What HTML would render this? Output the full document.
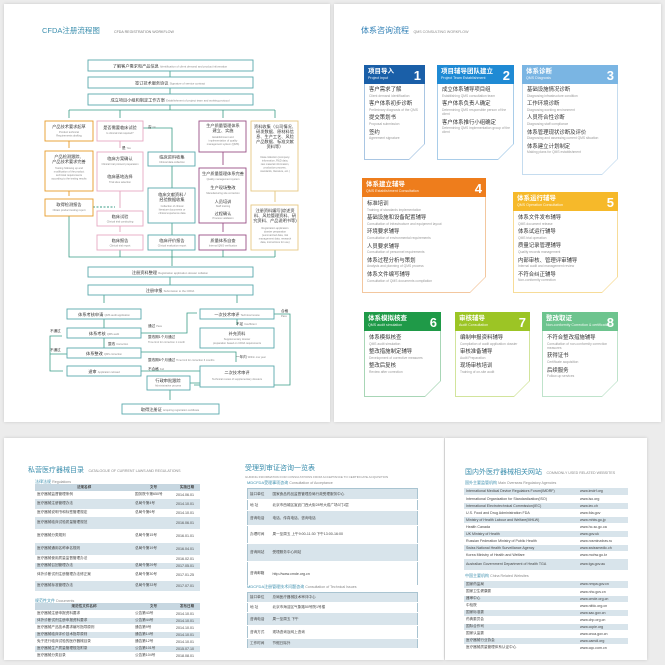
<!DOCTYPE html>
<html><head><meta charset="utf-8">
<style>
*{margin:0;padding:0;box-sizing:border-box}
body{width:665px;height:665px;background:#ececec;position:relative;overflow:hidden;font-family:"Liberation Sans","Noto Sans CJK SC",sans-serif}
.pg{position:absolute;background:#fff;box-shadow:0 0 3px rgba(0,0,0,.15)}
.a{position:absolute}
.card{position:absolute;clip-path:polygon(0 0,100% 0,100% calc(100% - 16px),calc(100% - 16px) 100%,0 100%)}
.card .in{position:absolute;left:1px;top:0;right:1px;bottom:1px;background:#fff;clip-path:polygon(0 0,100% 0,100% calc(100% - 15px),calc(100% - 15px) 100%,0 100%)}
.card .hd{position:absolute;left:0;top:0;right:0;color:#fff;padding:3px 4px}
.hd b{display:block;font-size:6.5px;line-height:8px}
.hd i{display:block;font-style:normal;font-size:3.6px;line-height:5px;opacity:.9}
.hd .n{position:absolute;right:4px;top:3px;font-size:13px;font-weight:bold}
.it{position:absolute;left:5px;right:3px}
.it p{font-size:5.4px;line-height:6.5px;color:#333}
.it s{text-decoration:none;display:block;font-size:3.3px;line-height:4.2px;color:#999;margin-bottom:3.5px}
table{position:absolute;border-collapse:collapse;font-size:3.6px;color:#444}
td{height:7px;padding:0 2px;border-bottom:1px solid #fff}
tr.g td{background:#d8e4eb}
tr.h td{background:#c7d7e1;font-weight:bold;text-align:center}
.t1{font-size:7px;color:#3c8fae}
.t2{font-size:3.6px;color:#888}
.st{font-size:4px;color:#3c8fae}
</style></head><body>
<div class="pg" style="left:4px;top:4px;width:326px;height:418px"></div>
<div class="pg" style="left:334px;top:4px;width:327px;height:418px"></div>
<div class="pg" style="left:4px;top:438px;width:440px;height:222px"></div>
<div class="pg" style="left:445px;top:438px;width:202px;height:222px"></div>

<!-- Flowchart -->
<svg class="a" style="left:0;top:0" width="665" height="430" viewBox="0 0 665 430">
<g font-family="Liberation Sans,Noto Sans CJK SC,sans-serif">
<text x="42" y="33" font-size="7.5" fill="#3c8fae">CFDA注册流程图</text>
<text x="114" y="33" font-size="3.6" fill="#777">CFDA REGISTRATION WORKFLOW</text>
<g fill="none" stroke="#3a9c86" stroke-width="0.8">
<path d="M170 71V77M170 88V94M170 105V110M69 110H275M69 110V118M120 110V118M223 110V118M275 110V118"/>
<path d="M143 128H172V152M172 166V188M172 223V235"/>
<path d="M69 216V257H275M120 250V257M172 250V266M223 250V257M275 250V257M170 277V285M104 295V303M237 295V303"/>
<path d="M104 319V328M104 338V348M62 336H50V371H63M67 354H50M141 333H187V313H197M141 352H236V362M237 319V325M141 371H200M274 314H290V385H194M190 383H200M170 390V400"/>
</g>
<g fill="none" stroke-width="0.9">
<path d="M69 141V148M69 191V196" stroke="#e69b2a"/>
<path d="M120 141V148M120 191V208M120 226V232" stroke="#e3a3bd"/>
<path d="M223 152V165M223 223V232" stroke="#9a4f87"/>
<path d="M275 191V202" stroke="#e2c37a"/>
<path d="M93 207H115" stroke="#3a9c86" stroke-dasharray="2 1.5"/>
</g>
<g fill="#fff" stroke-width="0.9">
<g stroke="#5aa9ac">
<rect x="88" y="60" width="165" height="11"/><rect x="88" y="77" width="165" height="11"/><rect x="88" y="94" width="165" height="11"/>
<rect x="148" y="152" width="47" height="14"/><rect x="148" y="188" width="47" height="35"/><rect x="148" y="235" width="47" height="15"/>
<rect x="88" y="267" width="165" height="10"/><rect x="88" y="285" width="165" height="10"/>
<rect x="67" y="309" width="74" height="10"/><rect x="67" y="328" width="74" height="10"/><rect x="67" y="348" width="74" height="10"/><rect x="67" y="366" width="74" height="10"/>
<rect x="200" y="309" width="74" height="10"/><rect x="200" y="328" width="74" height="20"/><rect x="200" y="366" width="74" height="21"/><rect x="147" y="376" width="43" height="14"/><rect x="122" y="404" width="97" height="10"/>
</g>
<g stroke="#e69b2a"><rect x="45" y="121" width="48" height="20"/><rect x="45" y="151" width="48" height="40"/><rect x="45" y="199" width="48" height="17"/></g>
<g stroke="#e7a8c2"><rect x="97" y="121" width="46" height="20"/><rect x="97" y="152" width="46" height="39"/><rect x="97" y="211" width="46" height="15"/><rect x="97" y="235" width="46" height="15"/></g>
<g stroke="#9a4f87"><rect x="199" y="121" width="47" height="31"/><rect x="199" y="168" width="47" height="55"/><rect x="199" y="235" width="47" height="15"/></g>
<g stroke="#e6c983"><rect x="251" y="121" width="47" height="70"/><rect x="251" y="205" width="47" height="45"/></g>
</g>
<g font-size="4.2" fill="#333" text-anchor="middle">
<text x="170" y="67.5">了解客户需求和产品信息 <tspan font-size="2.8" fill="#888">Identification of client demand and product information</tspan></text>
<text x="170" y="84.5">签订技术服务协议 <tspan font-size="2.8" fill="#888">Signature of service contract</tspan></text>
<text x="170" y="101.5">成立项目小组和制定工作方案 <tspan font-size="2.8" fill="#888">Establishment of project team and working protocol</tspan></text>
<text x="69" y="128">产品技术要求起草</text><text x="69" y="133" font-size="2.6" fill="#888">Product technical</text><text x="69" y="136.5" font-size="2.6" fill="#888">Requirements drafting</text>
<text x="69" y="158">产品检测跟踪、</text><text x="69" y="163">产品技术要求完善</text><text x="69" y="169" font-size="2.6" fill="#888">Testing following up and</text><text x="69" y="172.5" font-size="2.6" fill="#888">modification of the product</text><text x="69" y="176" font-size="2.6" fill="#888">technical requirements</text><text x="69" y="179.5" font-size="2.6" fill="#888">according to the testing results</text>
<text x="69" y="206">取得检测报告</text><text x="69" y="211" font-size="2.6" fill="#888">Obtain product testing report</text>
<text x="120" y="129">是否需要临床试验</text><text x="120" y="134" font-size="2.6" fill="#888">Is clinical trial required?</text>
<text x="120" y="160">临床方案确认</text><text x="120" y="165" font-size="2.6" fill="#888">Clinical trial protocol preparation</text><text x="120" y="178">临床基地选择</text><text x="120" y="183" font-size="2.6" fill="#888">Trial sites selection</text>
<text x="120" y="218">临床试验</text><text x="120" y="222.5" font-size="2.6" fill="#888">Clinical trial conducting</text>
<text x="120" y="242">临床报告</text><text x="120" y="246.5" font-size="2.6" fill="#888">Clinical trial report</text>
<text x="172" y="158.5">临床资料收集</text><text x="172" y="163" font-size="2.6" fill="#888">Clinical data collection</text>
<text x="172" y="196">临床文献资料 /</text><text x="172" y="201">经验数据收集</text><text x="172" y="207" font-size="2.6" fill="#888">Collection of clinical</text><text x="172" y="210.5" font-size="2.6" fill="#888">literature documents or</text><text x="172" y="214" font-size="2.6" fill="#888">clinical experience data</text>
<text x="172" y="242">临床评价报告</text><text x="172" y="246.5" font-size="2.6" fill="#888">Clinical evaluation report</text>
<text x="223" y="127">生产质量管理体系</text><text x="223" y="132">建立、实施</text><text x="223" y="138" font-size="2.6" fill="#888">Establishment and</text><text x="223" y="141.5" font-size="2.6" fill="#888">implementation of quality</text><text x="223" y="145" font-size="2.6" fill="#888">management system (QMS)</text>
<text x="223" y="175">生产质量管理体系完善</text><text x="223" y="180" font-size="2.6" fill="#888">Quality management system</text><text x="223" y="189">生产现场整改</text><text x="223" y="194" font-size="2.6" fill="#888">Manufacturing site correction</text><text x="223" y="203">人员培训</text><text x="223" y="207" font-size="2.6" fill="#888">Staff training</text><text x="223" y="215">过程确认</text><text x="223" y="219" font-size="2.6" fill="#888">Process validation</text>
<text x="223" y="242">质量体系自查</text><text x="223" y="246.5" font-size="2.6" fill="#888">Internal QMS verification</text>
<text x="275" y="128">资料收集（公司情况、</text><text x="275" y="133">研发数据、原材料信</text><text x="275" y="138">息、生产工艺、风险</text><text x="275" y="143">产品数据、标准文献</text><text x="275" y="148">资料等）</text><text x="275" y="158" font-size="2.6" fill="#888">Data collection (company</text><text x="275" y="161.5" font-size="2.6" fill="#888">information, R&amp;D data,</text><text x="275" y="165" font-size="2.6" fill="#888">raw material information,</text><text x="275" y="168.5" font-size="2.6" fill="#888">production process,</text><text x="275" y="172" font-size="2.6" fill="#888">standards, literature, etc.)</text>
<text x="275" y="212">注册资料编写(综述资</text><text x="275" y="217">料、风险管理资料、研</text><text x="275" y="222">究资料、产品说明书等)</text><text x="275" y="229" font-size="2.6" fill="#888">Registration application</text><text x="275" y="232.5" font-size="2.6" fill="#888">dossier preparation</text><text x="275" y="236" font-size="2.6" fill="#888">(summarized data, risk</text><text x="275" y="239.5" font-size="2.6" fill="#888">management data, research</text><text x="275" y="243" font-size="2.6" fill="#888">data, instructions for use)</text>
<text x="170" y="274">注册资料整理 <tspan font-size="2.8" fill="#888">Registration application dossier collation</tspan></text>
<text x="170" y="292">注册申报 <tspan font-size="2.8" fill="#888">Submission to the CFDA</tspan></text>
<text x="104" y="316">体系考核申请 <tspan font-size="2.6" fill="#888">QMS audit application</tspan></text>
<text x="104" y="335">体系考核 <tspan font-size="2.6" fill="#888">QMS audit</tspan></text>
<text x="104" y="355">体系整改 <tspan font-size="2.6" fill="#888">QMS correction</tspan></text>
<text x="104" y="373">退审 <tspan font-size="2.6" fill="#888">Application refused</tspan></text>
<text x="237" y="316">一次技术审评 <tspan font-size="2.6" fill="#888">Technical review</tspan></text>
<text x="237" y="335">补充资料</text><text x="237" y="340" font-size="2.6" fill="#888">Supplementary dossier</text><text x="237" y="344" font-size="2.6" fill="#888">preparation based on CFDA requirements</text>
<text x="237" y="374">二次技术审评</text><text x="237" y="380" font-size="2.6" fill="#888">Technical review of supplementary dossiers</text>
<text x="168" y="382">行政审批跟踪</text><text x="168" y="386.5" font-size="2.6" fill="#888">Administrative process</text>
<text x="170" y="411">取得注册证 <tspan font-size="2.6" fill="#888">Acquiring registration certificate</tspan></text>
</g>
<g font-size="3.6" fill="#333">
<text x="148" y="128">否 <tspan font-size="2.6" fill="#888">No</tspan></text><text x="122" y="149">是 <tspan font-size="2.6" fill="#888">Yes</tspan></text>
<text x="148" y="327">通过 <tspan font-size="2.6" fill="#888">Pass</tspan></text><text x="148" y="338">整改期1个月通过</text><text x="148" y="343" font-size="2.6" fill="#888">Time limit for correction 1 month</text>
<text x="148" y="361">整改期6个月通过 <tspan font-size="2.6" fill="#888">Time limit for correction 6 months</tspan></text>
<text x="148" y="370">不合格 <tspan font-size="2.6" fill="#888">Fail</tspan></text>
<text x="108" y="345">整改 <tspan font-size="2.6" fill="#888">Correction</tspan></text>
<text x="50" y="332">不通过</text><text x="50" y="351">不通过</text>
<text x="236" y="325">不足 <tspan font-size="2.6" fill="#888">Insufficient</tspan></text>
<text x="236" y="358">一年内 <tspan font-size="2.6" fill="#888">Within one year</tspan></text>
<text x="281" y="312">合格</text><text x="281" y="317" font-size="2.6" fill="#888">Pass</text>
</g>
</g>
</svg>

<!-- Right top: QMS consulting -->
<div class="a" style="left:361px;top:20px"><span class="t1" style="font-size:8px;color:#2f7fb5">体系咨询流程</span> <span class="t2">QMS CONSULTING WORKFLOW</span></div>

<div class="card" style="left:364px;top:65px;width:61px;height:95px;background:#a9c6e3"><div class="in"></div>
<div class="hd" style="background:#1a5fa8;height:19px"><b>项目导入</b><i>Project input</i><span class="n">1</span></div>
<div class="it" style="top:22px"><p>客户需求了解</p><s>Client demand identification</s><p>客户体系初步诊断</p><s>Preliminary diagnosis of the QMS</s><p>提交策划书</p><s>Proposal submission</s><p>签约</p><s>Agreement signature</s></div></div>

<div class="card" style="left:437px;top:65px;width:77px;height:95px;background:#a9cde9"><div class="in"></div>
<div class="hd" style="background:#1f8ad4;height:19px"><b>项目辅导团队建立</b><i>Project Team Establishment</i><span class="n">2</span></div>
<div class="it" style="top:22px"><p>成立体系辅导项目组</p><s>Establishing QMS consultation team</s><p>客户体系负责人确定</p><s>Determining QMS responsible person of the client</s><p>客户体系推行小组确定</p><s>Determining QMS implementation group of the client</s></div></div>

<div class="card" style="left:522px;top:65px;width:96px;height:110px;background:#c5dcef"><div class="in"></div>
<div class="hd" style="background:#7ab5e3;height:19px"><b>体系诊断</b><i>QMS Diagnosis</i><span class="n">3</span></div>
<div class="it" style="top:22px"><p>基础设施情况诊断</p><s>Diagnosing infrastructure condition</s><p>工作环境诊断</p><s>Diagnosing working environment</s><p>人员符合性诊断</p><s>Diagnosing staff compliance</s><p>体系管理现状诊断及评价</p><s>Diagnosing and assessing current QMS situation</s><p>体系建立计划制定</p><s>Making plans for QMS establishment</s></div></div>

<div class="card" style="left:362px;top:178px;width:124px;height:115px;background:#f3c79f"><div class="in"></div>
<div class="hd" style="background:#ee7d1c;height:19px"><b>体系建立辅导</b><i>QMS Establishment Consultation</i><span class="n">4</span></div>
<div class="it" style="top:23px"><p>标准培训</p><s>Training of standards implementation</s><p>基础设施和设备配置辅导</p><s>Consultation of infrastructure and equipment layout</s><p>环境要求辅导</p><s>Consultation of environmental requirements</s><p>人员要求辅导</p><s>Consultation of personnel requirements</s><p>体系过程分析与策划</p><s>Analysis and planning of QMS process</s><p>体系文件编写辅导</p><s>Consultation of QMS documents compilation</s></div></div>

<div class="card" style="left:513px;top:192px;width:105px;height:101px;background:#f7dc98"><div class="in"></div>
<div class="hd" style="background:#f6b92a;height:19px"><b>体系运行辅导</b><i>QMS Operation Consultation</i><span class="n">5</span></div>
<div class="it" style="top:23px"><p>体系文件发布辅导</p><s>QMS document release</s><p>体系试运行辅导</p><s>QMS trial operation</s><p>质量记录管理辅导</p><s>Quality records management</s><p>内部审核、管理评审辅导</p><s>Internal audit and management review</s><p>不符合纠正辅导</p><s>Non-conformity correction</s></div></div>

<div class="card" style="left:364px;top:312px;width:77px;height:85px;background:#a8d6b6"><div class="in"></div>
<div class="hd" style="background:#1f9a48;height:19px"><b>体系模拟核查</b><i>QMS audit simulation</i><span class="n">6</span></div>
<div class="it" style="top:23px"><p>体系模拟核查</p><s>QMS audit simulation</s><p>整改措施制定辅导</p><s>Development of corrective measures</s><p>整改后复核</p><s>Review after correction</s></div></div>

<div class="card" style="left:455px;top:312px;width:75px;height:85px;background:#d2e49c"><div class="in"></div>
<div class="hd" style="background:#9cc525;height:19px"><b>审核辅导</b><i>Audit Consultation</i><span class="n">7</span></div>
<div class="it" style="top:23px"><p>编制申报资料辅导</p><s>Compilation of audit application dossier</s><p>审核准备辅导</p><s>Audit Preparation</s><p>现场审核培训</p><s>Training of on-site audit</s></div></div>

<div class="card" style="left:542px;top:312px;width:76px;height:85px;background:#bfe3cb"><div class="in"></div>
<div class="hd" style="background:#6dc48e;height:19px"><b>整改取证</b><i>Non-conformity Correction &amp; certification</i><span class="n">8</span></div>
<div class="it" style="top:23px"><p>不符合整改措施辅导</p><s>Consultation of non-conformity correction measures</s><p>获得证书</p><s>Certificate acquisition</s><p>后续服务</p><s>Follow-up services</s></div></div>

<!-- Bottom left -->
<div class="a" style="left:28px;top:459px"><span class="t1">私营医疗器械目录</span> <span class="t2">CATALOGUE OF CURRENT LAWS AND REGULATIONS</span></div>
<div class="a st" style="left:35px;top:479px">法律法规 <span class="t2">Regulations</span></div>
<table style="left:35px;top:484px;width:165px">
<tr class="h"><td style="width:98px">法规名称</td><td style="width:41px">文号</td><td>实施日期</td></tr>
<tr><td>医疗器械监督管理条例</td><td>国务院令第650号</td><td>2014.06.01</td></tr>
<tr class="g"><td style="height:11px">医疗器械注册管理办法</td><td>总局令第4号</td><td>2014.10.01</td></tr>
<tr><td>医疗器械说明书和标签管理规定</td><td>总局令第6号</td><td>2014.10.01</td></tr>
<tr class="g"><td style="height:13px">医疗器械临床试验质量管理规范</td><td></td><td>2016.06.01</td></tr>
<tr><td style="height:13px">医疗器械分类规则</td><td>总局令第15号</td><td>2016.01.01</td></tr>
<tr class="g"><td style="height:13px">医疗器械通用名称命名规则</td><td>总局令第19号</td><td>2016.04.01</td></tr>
<tr><td>医疗器械使用质量监督管理办法</td><td></td><td>2016.02.01</td></tr>
<tr class="g"><td>医疗器械召回管理办法</td><td>总局令第29号</td><td>2017.05.01</td></tr>
<tr><td style="height:11px">体外诊断试剂注册管理办法修正案</td><td>总局令第30号</td><td>2017.01.25</td></tr>
<tr class="g"><td style="height:11px">医疗器械标准管理办法</td><td>总局令第33号</td><td>2017.07.01</td></tr>
</table>
<div class="a st" style="left:35px;top:598px">规范性文件 <span class="t2">Documents</span></div>
<table style="left:35px;top:603px;width:165px">
<tr class="h"><td style="width:98px">规范性文件名称</td><td style="width:41px">文号</td><td>发布日期</td></tr>
<tr><td>医疗器械注册申报资料要求</td><td>公告第43号</td><td>2014.10.01</td></tr>
<tr class="g"><td>体外诊断试剂注册申报资料要求</td><td>公告第44号</td><td>2014.10.01</td></tr>
<tr><td>医疗器械产品技术要求编写指导原则</td><td>通告第9号</td><td>2014.10.01</td></tr>
<tr class="g"><td>医疗器械临床评价技术指导原则</td><td>通告第14号</td><td>2014.10.01</td></tr>
<tr><td>免于进行临床试验的医疗器械目录</td><td>通告第12号</td><td>2014.10.01</td></tr>
<tr class="g"><td>医疗器械生产质量管理规范附录</td><td>公告第101号</td><td>2015.07.10</td></tr>
<tr><td>医疗器械分类目录</td><td>公告第104号</td><td>2018.08.01</td></tr>
</table>

<!-- Bottom middle -->
<div class="a" style="left:245px;top:457px"><span class="t1">受理到审证咨询一览表</span><div class="t2" style="font-size:3px">GUIDING INFORMATION FOR CONSULTATIONS FROM ACCEPTANCE TO CERTIFICATE ACQUISITION</div></div>
<div class="a st" style="left:247px;top:480px">MDCFDA受理事项咨询 <span class="t2">Consultation of Acceptance</span></div>
<table style="left:247px;top:488px;width:171px;border:1px solid #a9c4d1">
<tr class="g"><td style="width:23px;height:11px">接口单位</td><td>国家食品药品监督管理总局行政受理服务中心</td></tr>
<tr><td style="height:11px">地 址</td><td>北京市西城区宣武门西大街28号大成广场3门1层</td></tr>
<tr class="g"><td style="height:15px">咨询电话</td><td>电话、传真电话、咨询电话</td></tr>
<tr><td style="height:18px">办理时间</td><td>周一至周五 上午9:00-11:30 下午13:00-16:00</td></tr>
<tr class="g"><td style="height:18px">咨询网站</td><td>受理服务中心网站</td></tr>
<tr><td style="height:24px">咨询邮箱</td><td>http://www.cmde.org.cn</td></tr>
</table>
<div class="a st" style="left:247px;top:584px">MDCFDA注册管理技术问题咨询 <span class="t2">Consultation of Technical Issues</span></div>
<table style="left:247px;top:592px;width:171px;border:1px solid #a9c4d1">
<tr class="g"><td style="width:23px;height:10px">接口单位</td><td>总局医疗器械技术审评中心</td></tr>
<tr><td style="height:10px">地 址</td><td>北京市海淀区气象路50号院1号楼</td></tr>
<tr class="g"><td style="height:13px">咨询电话</td><td>周一至周五 下午</td></tr>
<tr><td style="height:13px">咨询方式</td><td>现场咨询及网上咨询</td></tr>
<tr class="g"><td style="height:10px">工作时间</td><td>节假日除外</td></tr>
</table>

<!-- Bottom right -->
<div class="a" style="left:465px;top:461px"><span class="t1">国内外医疗器械相关网站</span> <span class="t2">COMMONLY USED RELATED WEBSITES</span></div>
<div class="a st" style="left:465px;top:480px">国外主要监管机构 <span class="t2">Main Overseas Regulatory Agencies</span></div>
<table style="left:464px;top:488px;width:164px">
<tr class="g"><td style="width:114px">International Medical Device Regulators Forum(IMDRF)</td><td>www.imdrf.org</td></tr>
<tr><td>International Organization for Standardization(ISO)</td><td>www.iso.org</td></tr>
<tr class="g"><td>International Electrotechnical Commission(IEC)</td><td>www.iec.ch</td></tr>
<tr><td>U.S. Food and Drug Administration FDA</td><td>www.fda.gov</td></tr>
<tr class="g"><td>Ministry of Health Labour and Welfare(MHLW)</td><td>www.mhlw.go.jp</td></tr>
<tr><td>Health Canada</td><td>www.hc-sc.gc.ca</td></tr>
<tr class="g"><td>UK Ministry of Health</td><td>www.gov.uk</td></tr>
<tr><td>Russian Federation Ministry of Public Health</td><td>www.rosminzdrav.ru</td></tr>
<tr class="g"><td>Swiss National Health Surveillance Agency</td><td>www.swissmedic.ch</td></tr>
<tr><td>Korea Ministry of Health and Welfare</td><td>www.mohw.go.kr</td></tr>
<tr class="g"><td style="height:12px">Australian Government Department of Health TGA</td><td>www.tga.gov.au</td></tr>
</table>
<div class="a st" style="left:465px;top:573px">中国主要机构 <span class="t2">China Related Websites</span></div>
<table style="left:464px;top:581px;width:164px">
<tr class="g"><td style="width:114px">国家药监局</td><td>www.nmpa.gov.cn</td></tr>
<tr><td>国家卫生健康委</td><td>www.nhc.gov.cn</td></tr>
<tr class="g"><td>器审中心</td><td>www.cmde.org.cn</td></tr>
<tr><td>中检院</td><td>www.nifdc.org.cn</td></tr>
<tr class="g"><td>国家标准委</td><td>www.sac.gov.cn</td></tr>
<tr><td>药典委员会</td><td>www.chp.org.cn</td></tr>
<tr class="g"><td>国际合作司</td><td>www.ccpie.org</td></tr>
<tr><td>国家认监委</td><td>www.cnca.gov.cn</td></tr>
<tr class="g"><td>医疗器械行业协会</td><td>www.camdi.org</td></tr>
<tr><td>医疗器械质量管理体系认证中心</td><td>www.cqc.com.cn</td></tr>
</table>
</body></html>
